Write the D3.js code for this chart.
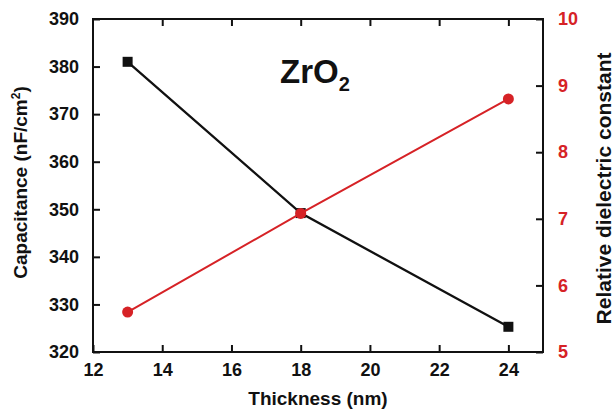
<!DOCTYPE html>
<html>
<head>
<meta charset="utf-8">
<script src="https://cdn.jsdelivr.net/npm/d3@7"></script>
<style>
  body { margin: 0; background: #fff; }
  text { font-family: "Liberation Sans", Arial, sans-serif; font-weight: bold; }
</style>
</head>
<body>
<div id="container"></div>
<script>
/* DATA */
const thickness = [13, 18, 24];
const capacitance = [381, 349.2, 325.3];
const dielectric = [5.6, 7.08, 8.8];
const xTicks = [12, 14, 16, 18, 20, 22, 24];
const yLeftTicks = [320, 330, 340, 350, 360, 370, 380, 390];
const yRightTicks = [5, 6, 7, 8, 9, 10];

const width = 616, height = 413;
const margin = { top: 19, right: 73, bottom: 61, left: 93 };
const red = "#d62226";

const svg = d3.select("#container").append("svg")
  .attr("width", width).attr("height", height);

const x = d3.scaleLinear().domain([12, 25]).range([margin.left, width - margin.right]);
const yL = d3.scaleLinear().domain([320, 390]).range([height - margin.bottom, margin.top]);
const yR = d3.scaleLinear().domain([5, 10]).range([height - margin.bottom, margin.top]);

const x0 = margin.left, x1 = width - margin.right;
const y0 = height - margin.bottom, y1 = margin.top;

// axes, ticks pointing inward
function styleAxis(g, color) {
  g.select(".domain").remove();
  g.selectAll(".tick line").attr("stroke", "#111").attr("stroke-width", 2);
  g.selectAll(".tick text").attr("fill", color).attr("font-size", 18);
}

svg.append("g").attr("transform", `translate(0,${y0})`)
  .call(d3.axisBottom(x).tickValues(xTicks).tickSizeInner(-7).tickPadding(11))
  .call(g => styleAxis(g, "#111"));

svg.append("g").attr("transform", `translate(0,${y1})`)
  .call(d3.axisTop(x).tickValues(xTicks.slice(1)).tickSizeInner(-7).tickFormat(""))
  .call(g => styleAxis(g, "#111"));

svg.append("g").attr("transform", `translate(${x0},0)`)
  .call(d3.axisLeft(yL).tickValues(yLeftTicks).tickSizeInner(-7).tickPadding(14))
  .call(g => styleAxis(g, "#111"));

svg.append("g").attr("transform", `translate(${x1},0)`)
  .call(d3.axisRight(yR).tickValues(yRightTicks).tickSizeInner(-7).tickPadding(15)
    .tickFormat(d3.format("d")))
  .call(g => styleAxis(g, red));

// frame
svg.append("rect")
  .attr("x", x0).attr("y", y1)
  .attr("width", x1 - x0).attr("height", y0 - y1)
  .attr("fill", "none").attr("stroke", "#111").attr("stroke-width", 2);

// axis titles
svg.append("text")
  .attr("x", (x0 + x1) / 2).attr("y", 405)
  .attr("text-anchor", "middle").attr("font-size", 19).attr("fill", "#111")
  .text("Thickness (nm)");

const lt = svg.append("text")
  .attr("transform", `translate(27,${(y0 + y1) / 2 - 3}) rotate(-90)`)
  .attr("text-anchor", "middle").attr("font-size", 19).attr("fill", "#111");
lt.append("tspan").text("Capacitance (nF/cm");
lt.append("tspan").attr("dy", -7).attr("font-size", 12).text("2");
lt.append("tspan").attr("dy", 7).text(")");

svg.append("text")
  .attr("transform", `translate(611,${(y0 + y1) / 2 + 3}) rotate(-90)`)
  .attr("text-anchor", "middle").attr("font-size", 21).attr("fill", "#111")
  .text("Relative dielectric constant");

// ZrO2 label
const zl = svg.append("text")
  .attr("x", 280).attr("y", 83).attr("font-size", 33).attr("fill", "#111");
zl.append("tspan").text("ZrO");
zl.append("tspan").attr("dy", 8).attr("font-size", 20).text("2");

// black series: capacitance
const capData = thickness.map((t, i) => ({ t, v: capacitance[i] }));
const dieData = thickness.map((t, i) => ({ t, v: dielectric[i] }));

svg.append("path").datum(capData)
  .attr("fill", "none").attr("stroke", "#111").attr("stroke-width", 2.3)
  .attr("d", d3.line().x(d => x(d.t)).y(d => yL(d.v)));

svg.selectAll(".sq").data(capData).join("rect")
  .attr("class", "sq")
  .attr("x", d => x(d.t) - 5).attr("y", d => yL(d.v) - 5)
  .attr("width", 10).attr("height", 10).attr("fill", "#111");

// red series: dielectric constant
svg.append("path").datum(dieData)
  .attr("fill", "none").attr("stroke", red).attr("stroke-width", 2)
  .attr("d", d3.line().x(d => x(d.t)).y(d => yR(d.v)));

svg.selectAll(".dot").data(dieData).join("circle")
  .attr("class", "dot")
  .attr("cx", d => x(d.t)).attr("cy", d => yR(d.v))
  .attr("r", 5.5).attr("fill", red);
</script>
</body>
</html>
